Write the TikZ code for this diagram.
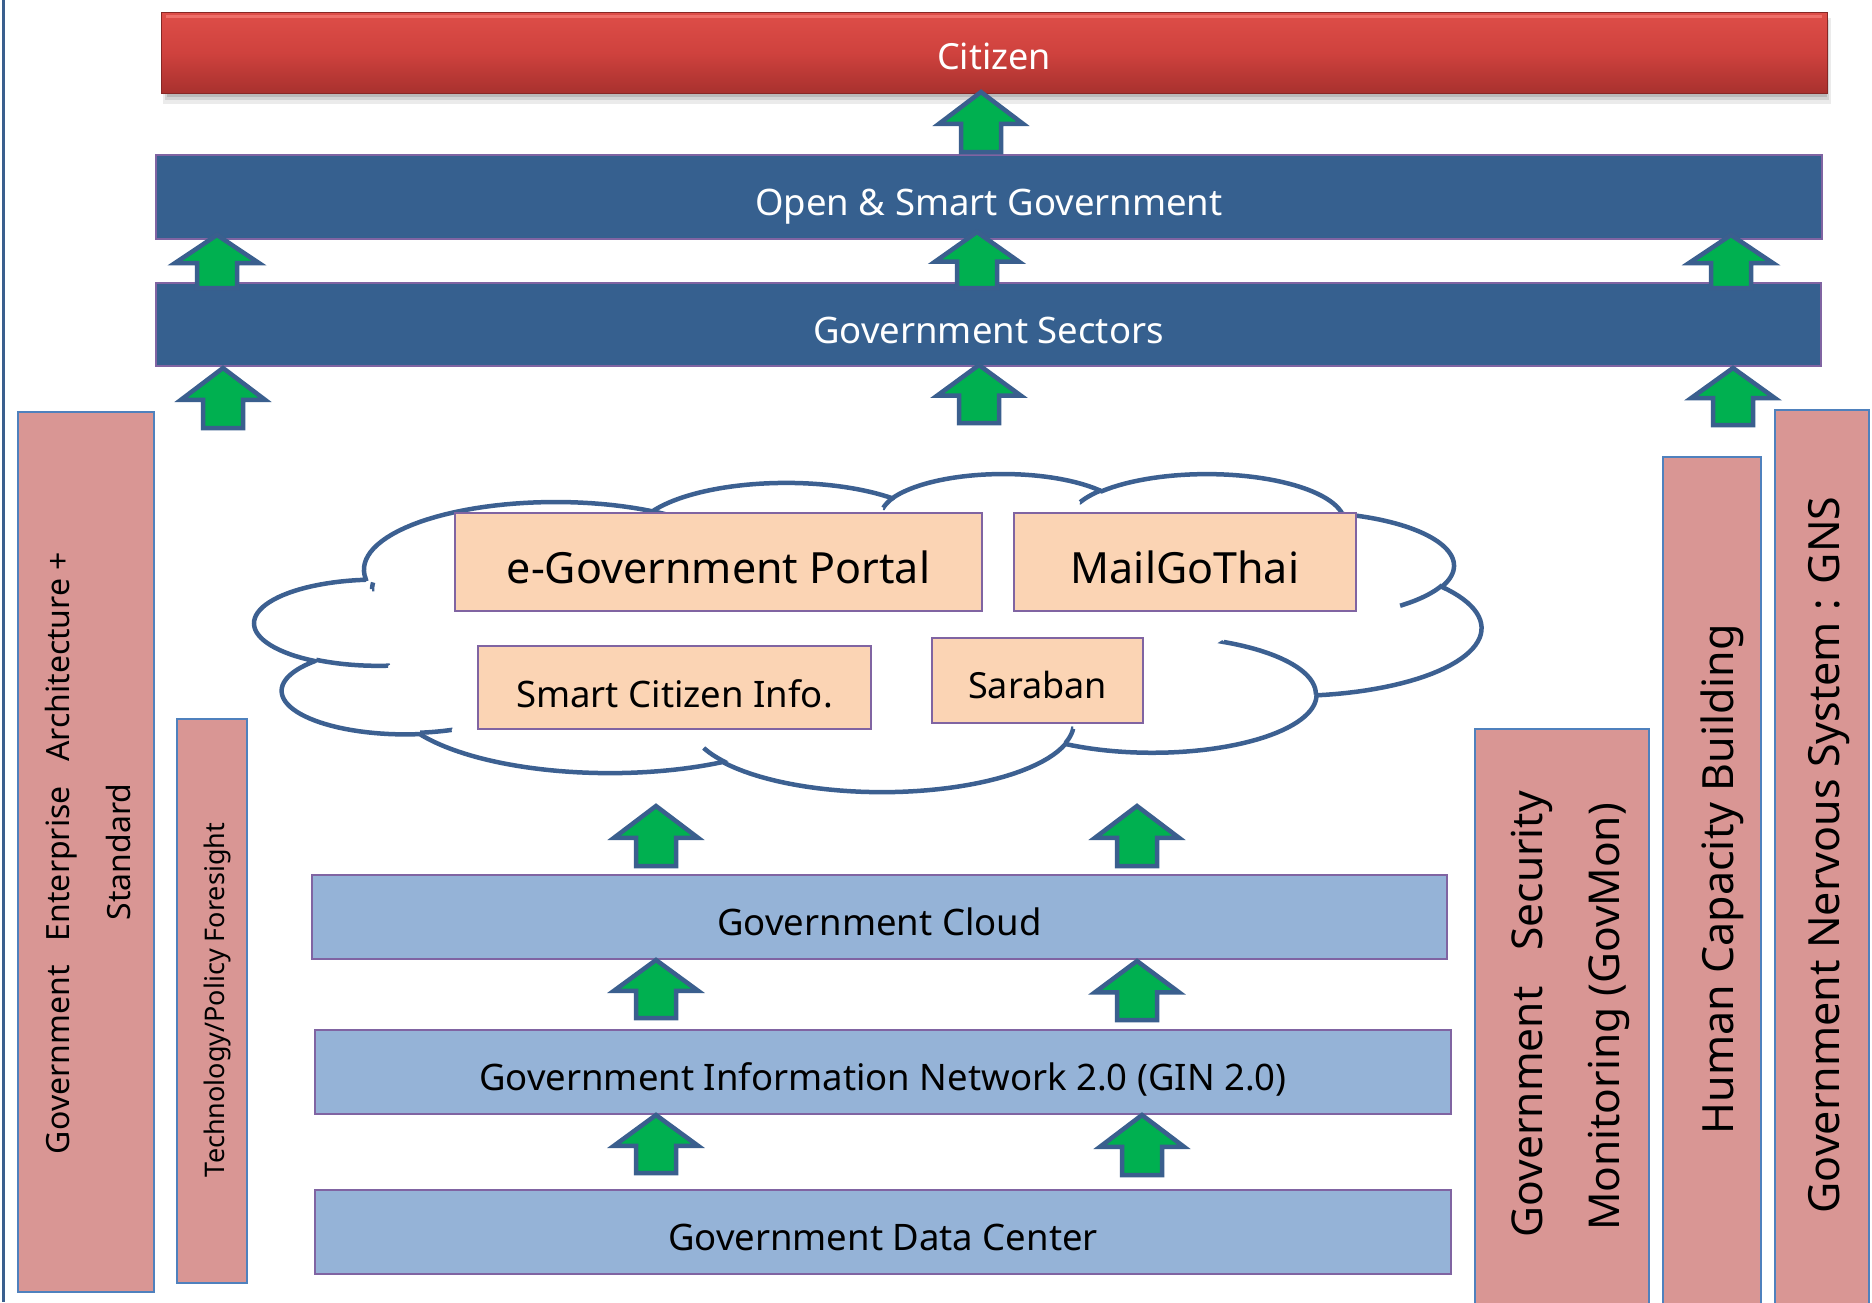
\documentclass[tikz,border=0pt]{standalone}
\usepackage{fontspec}
\setmainfont{Noto Sans}
\definecolor{darkbluefill}{HTML}{36608F}
\definecolor{lightbluefill}{HTML}{95B3D7}
\definecolor{peachfill}{HTML}{FBD4B4}
\definecolor{pinkfill}{HTML}{D99694}
\definecolor{purpleborder}{HTML}{8064A2}
\definecolor{pinkborder}{HTML}{4F81BD}
\definecolor{arrowgreen}{HTML}{00B050}
\definecolor{arrowblue}{HTML}{3A5F8E}
\definecolor{cloudblue}{HTML}{3C6091}
\definecolor{citizentop}{HTML}{DE4E48}
\definecolor{citizenmid}{HTML}{CF423E}
\definecolor{citizenbot}{HTML}{A8312E}
\definecolor{citizenhl}{HTML}{EE6E68}
\newcommand\fs[1]{\fontsize{#1}{#1}\selectfont}
% ---- Office-style cloud geometry (computed in 43200-unit square, then mapped) ----
\def\cXo{255}\def\cYo{473}\def\cW{1226}\def\cH{318}
\def\cpath{}
\newcommand\cmove[2]{%
  \edef\cX{#1}\edef\cY{#2}%
  \edef\cXp{\fpeval{round(\cXo+\cX*\cW/43200,4)}}%
  \edef\cYp{\fpeval{round(\cYo+\cY*\cH/43200,4)}}%
  \xdef\cpath{\unexpanded\expandafter{\cpath} (\cXp,\cYp)}}
\newcommand\carc[4]{%
  \edef\crx{#1}\edef\cry{#2}%
  \edef\cst{\fpeval{(#3)/60000}}%
  \edef\cen{\fpeval{((#3)+(#4))/60000}}%
  \edef\cts{\fpeval{round(atand(\crx*sind(\cst),\cry*cosd(\cst)),4)}}%
  \edef\cte{\fpeval{round(atand(\crx*sind(\cen),\cry*cosd(\cen)),4)}}%
  \edef\cte{\fpeval{((#4)>0)?((\cte<\cts)?(\cte+360):\cte):((\cte>\cts)?(\cte-360):\cte)}}%
  \edef\ccx{\fpeval{\cX-\crx*cosd(\cts)}}%
  \edef\ccy{\fpeval{\cY-\cry*sind(\cts)}}%
  \edef\cX{\fpeval{\ccx+\crx*cosd(\cte)}}%
  \edef\cY{\fpeval{\ccy+\cry*sind(\cte)}}%
  \edef\ccxp{\fpeval{round(\cXo+\ccx*\cW/43200,4)}}%
  \edef\ccyp{\fpeval{round(\cYo+\ccy*\cH/43200,4)}}%
  \edef\crxp{\fpeval{round(\crx*\cW/43200,4)}}%
  \edef\cryp{\fpeval{round(\cry*\cH/43200,4)}}%
  \xdef\cpath{\unexpanded\expandafter{\cpath} -- plot[domain=\cts:\cte,samples=40,variable=\noexpand\cvar]({\ccxp+\crxp*cos(\noexpand\cvar)},{\ccyp+\cryp*sin(\noexpand\cvar)})}}
\cmove{3900}{14370}
\carc{6753}{9190}{-11429249}{7426832}
\carc{5333}{7267}{-8646143}{5396714}
\carc{4365}{5945}{-8748475}{5983381}
\carc{4857}{6595}{-7859164}{7034504}
\carc{5333}{7273}{-4722533}{6541615}
\carc{6775}{9220}{-2776035}{7816140}
\carc{5785}{7867}{37501}{6842000}
\carc{6752}{9215}{1347096}{6910353}
\carc{7720}{10543}{3974558}{4542661}
\carc{4360}{5918}{-16496525}{8804134}
\carc{4345}{5945}{-14809710}{9151197}
\let\cmainpath\cpath
\def\cpath{}
\cmove{4693}{26177}\carc{4345}{5945}{5204520}{1585770}
\cmove{6928}{34899}\carc{4360}{5918}{4416628}{686848}
\cmove{16478}{39090}\carc{6752}{9215}{8257449}{844866}
\cmove{28827}{34751}\carc{6752}{9215}{387196}{959901}
\cmove{34129}{22954}\carc{5785}{7867}{-4217541}{4255042}
\cmove{41798}{15354}\carc{5333}{7273}{1819082}{1665090}
\cmove{38324}{5426}\carc{4857}{6595}{-824660}{891534}
\cmove{29078}{3952}\carc{4857}{6595}{-8950887}{1091722}
\cmove{22141}{4720}\carc{4365}{5945}{-9809656}{1061181}
\cmove{14000}{5192}\carc{6753}{9190}{-4002417}{739161}
\cmove{4127}{15789}\carc{6753}{9190}{10800000}{469388}
\let\cinnerpath\cpath
\tikzset{
  darkbar/.style={draw=purpleborder, line width=1.5pt, fill=darkbluefill, text=white, inner sep=0pt, font=\fs{36.5}, text height=37pt, text depth=0pt},
  lightbar/.style={draw=purpleborder, line width=2.5pt, fill=lightbluefill, inner sep=0pt, font=\fs{36.5}, text height=37pt, text depth=0pt},
  peachbox/.style={draw=purpleborder, line width=2.5pt, fill=peachfill, inner sep=0pt},
  pinkbox/.style={draw=pinkborder, line width=2.5pt, fill=pinkfill, inner sep=0pt},
  vtext/.style={rotate=90, inner sep=0pt},
  blockarrow/.style={draw=arrowblue, fill=arrowgreen, line width=4.5pt, line join=miter},
  cloudline/.style={draw=cloudblue, line width=4.5pt},
}
\newcommand\blockup[3]{%
  \pgfmathsetmacro\hb{#2+0.53*(#3-#2)}%
  \draw[blockarrow] (#1,#2) -- (#1+42,\hb) -- (#1+20,\hb) -- (#1+20,#3) -- (#1-20,#3) -- (#1-20,\hb) -- (#1-42,\hb) -- cycle;}
\begin{document}
\begin{tikzpicture}[x=1pt,y=-1pt]
\useasboundingbox (0,0) rectangle (1872,1302);
\fill[white] (0,0) rectangle (1872,1302);
% left frame line
\draw[arrowblue, line width=3pt] (3,0) -- (3,1302);
% citizen shadow
\fill[black, opacity=.08] (163,18) rectangle (1831,104);
\fill[black, opacity=.10] (165,20) rectangle (1829,100);
\fill[black, opacity=.12] (167,22) rectangle (1827,97);
% top bars
\node[top color=citizentop, bottom color=citizenbot, middle color=citizenmid, draw=citizenbot!80!black, line width=1pt,
      minimum width=1666pt, minimum height=81pt, inner sep=0pt, text=white, font=\fs{36}, text height=33pt, text depth=0pt] (citizen) at (994,52.5) {Citizen};
\draw[citizenhl, line width=3pt] (166,16) -- (1822,16);
\node[darkbar, minimum width=1666pt, minimum height=84pt] (open) at (989,197) {Open \& Smart Government};
\node[darkbar, minimum width=1665pt, minimum height=83pt] (sectors) at (988.5,324.5) {Government Sectors};
% side pillars
\node[pinkbox, minimum width=136pt, minimum height=880pt] (gea) at (86,852) {};
\node[pinkbox, minimum width=70pt, minimum height=564pt] (tech) at (212,1001) {};
\node[pinkbox, minimum width=174pt, minimum height=581pt] (sec) at (1562,1019.5) {};
\node[pinkbox, minimum width=98pt, minimum height=853pt] (human) at (1712,883.5) {};
\node[pinkbox, minimum width=94pt, minimum height=900pt] (gns) at (1822,860) {};
\node[vtext, font=\fs{32}] (gea1) at (61,853) {\makebox[602pt]{Government\hfill Enterprise\hfill Architecture +}};
\node[vtext, font=\fs{32}] (gea2) at (118,852) {Standard};
\node[vtext, font=\fs{27}] (techtxt) at (217,1000) {Technology/Policy Foresight};
\node[vtext, font=\fs{42.5}] (sec1) at (1532,1014) {\makebox[446pt]{Government\hfill Security}};
\node[vtext, font=\fs{42.5}] (sec2) at (1609,1017) {Monitoring (GovMon)};
\node[vtext, font=\fs{43}] (humantxt) at (1722,879) {Human Capacity Building};
\node[vtext, font=\fs{43}] (gnstxt) at (1829,855) {Government Nervous System : GNS};
% cloud
\draw[cloudline, fill=white] \cmainpath -- cycle;
\draw[cloudline] \cinnerpath;
\node[peachbox, minimum width=527pt, minimum height=98pt, font=\fs{43}, text height=42pt, text depth=0pt] (egov) at (718.5,562) {e-Government Portal};
\node[peachbox, minimum width=342pt, minimum height=98pt, font=\fs{43}, text height=42pt, text depth=0pt] (mail) at (1185,562) {MailGoThai};
\node[peachbox, minimum width=393pt, minimum height=83pt, font=\fs{36.5}, text height=39pt, text depth=0pt] (smart) at (674.5,687.5) {Smart Citizen Info.};
\node[peachbox, minimum width=211pt, minimum height=85pt, font=\fs{36}, text height=36pt, text depth=0pt] (saraban) at (1037.5,680.5) {Saraban};
% infrastructure layers
\node[lightbar, minimum width=1135pt, minimum height=84pt] (gcloud) at (879.5,917) {Government Cloud};
\node[lightbar, minimum width=1136pt, minimum height=84pt] (gin) at (883,1072) {Government Information Network 2.0 (GIN 2.0)};
\node[lightbar, minimum width=1136pt, minimum height=84pt] (gdc) at (883,1232) {Government Data Center};
% block arrows
\blockup{981}{92}{152}
\blockup{217}{235}{288}
\blockup{977}{232}{288}
\blockup{1731}{235}{288}
\blockup{223}{368}{428}
\blockup{979}{365}{423}
\blockup{1733}{368}{425}
\blockup{656}{806}{866}
\blockup{1137}{806}{866}
\blockup{656}{960}{1018}
\blockup{1137}{961}{1020}
\blockup{656}{1115}{1173}
\blockup{1142}{1115}{1175}
\end{tikzpicture}
\end{document}
